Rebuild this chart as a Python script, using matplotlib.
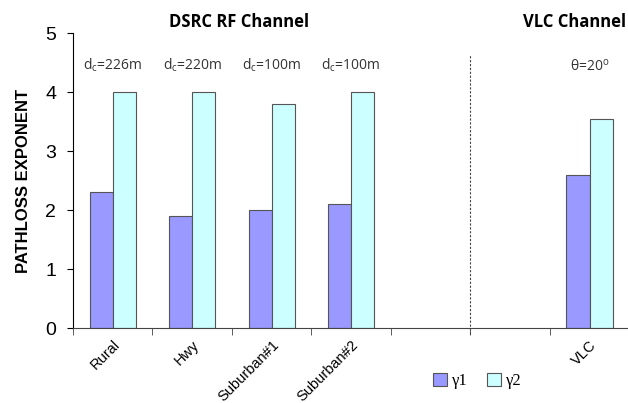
import matplotlib.pyplot as plt
import numpy as np

# data
categories = ["Rural", "Hwy", "Suburban#1", "Suburban#2", "", "", "VLC"]
gamma1 = [2.3, 1.9, 2.0, 2.1, np.nan, np.nan, 2.6]
gamma2 = [4.0, 4.0, 3.8, 4.0, np.nan, np.nan, 3.55]
notes = ["d$_\\mathregular{c}$=226m", "d$_\\mathregular{c}$=220m",
         "d$_\\mathregular{c}$=100m", "d$_\\mathregular{c}$=100m", "", "",
         "θ=20$^\\mathregular{o}$"]

fig = plt.figure(figsize=(6.28, 4.03), dpi=100)
ax = fig.add_axes([0.116, 0.186, 0.886, 0.732])

x = np.arange(len(categories))
w = 0.29
ax.bar(x - w/2, gamma1, w, color='#9999FF', edgecolor='#555555', linewidth=0.8, label='γ1')
ax.bar(x + w/2, gamma2, w, color='#CCFFFF', edgecolor='#555555', linewidth=0.8, label='γ2')

ax.set_xlim(-0.5, len(categories) - 0.5)
ax.set_ylim(0, 5)
ax.set_yticks([0, 1, 2, 3, 4, 5])
ax.tick_params(axis='y', labelsize=14, length=4, pad=8)
for t in ax.get_yticklabels():
    t.set_family('Liberation Sans')

ax.set_xticks(x)
ax.set_xticklabels(categories, rotation=45, ha='right', rotation_mode='anchor',
                   fontsize=10.5, family='Liberation Sans')
ax.tick_params(axis='x', length=0, pad=7)
ax.set_xticks(np.arange(-0.5, len(categories)), minor=True)
ax.tick_params(axis='x', which='minor', length=5, color='#444444')

ax.spines['top'].set_visible(False)
ax.spines['right'].set_visible(False)
ax.spines['bottom'].set_color('#444444')

ax.set_ylabel("PATHLOSS EXPONENT", fontsize=12, fontweight='bold',
              family='Liberation Sans', labelpad=10)

# separator between RF and VLC
ax.plot([4.5, 4.5], [-0.1, 4.65], color='#444444', linestyle=(0, (2, 1.5)),
        linewidth=0.8, clip_on=False)

for xi, n in zip(x, notes):
    if n:
        ax.text(xi, 4.3, n, ha='center', va='bottom', fontsize=10,
                family='Open Sans', color='#333333')

fig.text(0.38, 0.945, "DSRC RF Channel", ha='center', va='center',
         fontsize=12, fontweight='bold', family='Open Sans')
fig.text(0.915, 0.945, "VLC Channel", ha='center', va='center',
         fontsize=12, fontweight='bold', family='Open Sans')

fig.legend(loc='center', bbox_to_anchor=(0.76, 0.055), ncol=2, frameon=False,
           handlelength=0.8, handleheight=0.8, handletextpad=0.3, columnspacing=1.2,
           prop={'family': 'Liberation Serif', 'size': 12})

fig.savefig("out.png", dpi=100)
